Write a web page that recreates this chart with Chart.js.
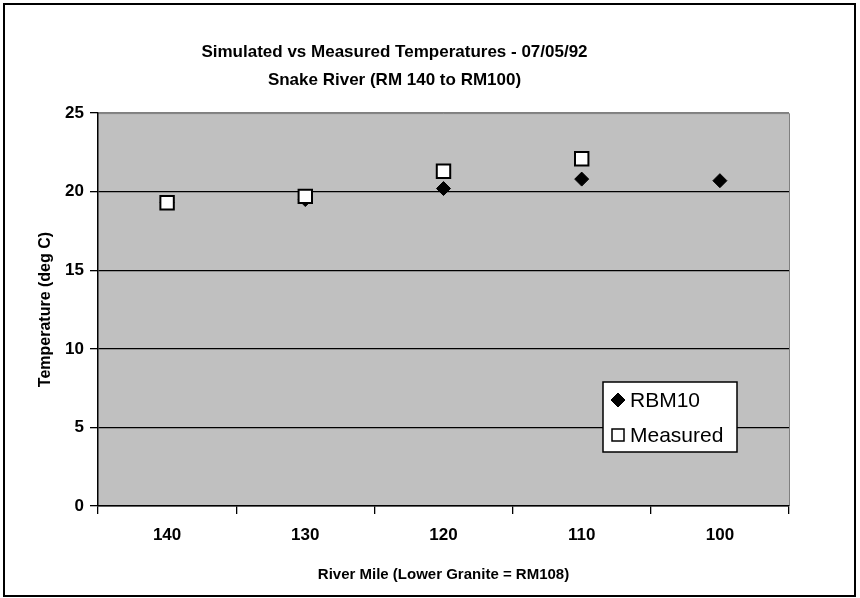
<!DOCTYPE html>
<html lang="en">
<head>
  <meta charset="UTF-8" />
  <title>Simulated vs Measured Temperatures</title>
  <script src="https://cdn.jsdelivr.net/npm/chart.js"></script>
  <style>
    body {
      margin: 0;
      background: #fff;
    }
    #wrap {
      width: 860px;
      height: 598px;
    }
  </style>
</head>
<body>
  <div id="wrap">
    <canvas id="tempChart" width="860" height="598"></canvas>
  </div>

  <script>
    // chart values
    const riverMiles = ["140", "130", "120", "110", "100"];
    const rbm10Temps = [19.3, 19.5, 20.2, 20.8, 20.7];
    const measuredTemps = [19.3, 19.7, 21.3, 22.1, null];
    const tempTicks = [0, 5, 10, 15, 20, 25];

    const font = "'Liberation Sans', Arial, sans-serif";

    // grey plot background, grey top/right edge, outer frame, legend box
    const excelLook = {
      id: "excelLook",
      beforeDraw(chart) {
        const { ctx, chartArea: a } = chart;
        ctx.save();
        ctx.fillStyle = "#fff";
        ctx.fillRect(0, 0, chart.width, chart.height);
        ctx.fillStyle = "#c0c0c0";
        ctx.fillRect(a.left, a.top, a.right - a.left, a.bottom - a.top);
        ctx.strokeStyle = "#808080";
        ctx.lineWidth = 1;
        ctx.beginPath();
        ctx.moveTo(a.left, a.top + 0.5);
        ctx.lineTo(a.right + 0.5, a.top + 0.5);
        ctx.lineTo(a.right + 0.5, a.bottom);
        ctx.stroke();
        ctx.restore();
      },
      afterDraw(chart) {
        const { ctx, chartArea: a } = chart;
        ctx.save();
        // outer frame
        ctx.strokeStyle = "#000";
        ctx.lineWidth = 2;
        ctx.strokeRect(4, 4, 851, 592);

        // legend
        const x0 = a.right - 186, y0 = a.bottom - 124;
        ctx.fillStyle = "#fff";
        ctx.fillRect(x0, y0, 134, 70);
        ctx.lineWidth = 1.5;
        ctx.strokeRect(x0, y0, 134, 70);

        const ds = chart.data.datasets;
        const rows = [ds[1], ds[0]];
        rows.forEach((d, i) => {
          const cy = y0 + 18 + i * 35;
          const cx = x0 + 15;
          ctx.fillStyle = d.pointBackgroundColor;
          ctx.strokeStyle = d.pointBorderColor;
          ctx.lineWidth = d.pointBorderWidth;
          if (d.pointStyle === "rectRot") {
            ctx.beginPath();
            ctx.moveTo(cx, cy - 7);
            ctx.lineTo(cx + 7, cy);
            ctx.lineTo(cx, cy + 7);
            ctx.lineTo(cx - 7, cy);
            ctx.closePath();
            ctx.fill();
            ctx.stroke();
          } else {
            ctx.fillRect(cx - 6, cy - 6, 12, 12);
            ctx.lineWidth = 1.5;
            ctx.strokeRect(cx - 6, cy - 6, 12, 12);
          }
          ctx.fillStyle = "#000";
          ctx.font = "21px " + font;
          ctx.textBaseline = "middle";
          ctx.textAlign = "left";
          ctx.fillText(d.label, x0 + 27, cy + 1);
        });
        ctx.restore();
      }
    };

    const chart = new Chart(document.getElementById("tempChart").getContext("2d"), {
      type: "line",
      data: {
        labels: riverMiles,
        datasets: [
          {
            label: "Measured",
            data: measuredTemps,
            showLine: false,
            pointStyle: "rect",
            pointRadius: 9.5,
            pointHoverRadius: 9.5,
            pointBackgroundColor: "#fff",
            pointBorderColor: "#000",
            pointBorderWidth: 2,
            order: 0
          },
          {
            label: "RBM10",
            data: rbm10Temps,
            showLine: false,
            pointStyle: "rectRot",
            pointRadius: 7,
            pointHoverRadius: 7,
            pointBackgroundColor: "#000",
            pointBorderColor: "#000",
            pointBorderWidth: 1,
            order: 1
          }
        ]
      },
      options: {
        responsive: false,
        animation: false,
        layout: { padding: { left: 0, right: 71, bottom: 0, top: 0 } },
        plugins: {
          legend: { display: false },
          tooltip: { enabled: false },
          title: {
            display: true,
            text: ["Simulated vs Measured Temperatures - 07/05/92", "Snake River (RM 140 to RM100)"],
            color: "#000",
            font: { family: font, size: 17, weight: "bold", lineHeight: 1.65 },
            padding: { top: 38, bottom: 19 }
          }
        },
        scales: {
          x: {
            type: "category",
            offset: true,
            grid: {
              offset: true,
              drawOnChartArea: false,
              drawTicks: true,
              tickLength: 8,
              color: "#000",
              lineWidth: 1.3
            },
            border: { color: "#000", width: 1.5 },
            ticks: {
              color: "#000",
              padding: 11,
              font: { family: font, size: 17, weight: "bold" }
            },
            title: {
              display: true,
              text: "River Mile (Lower Granite = RM108)",
              color: "#000",
              font: { family: font, size: 15, weight: "bold" },
              padding: { top: 14, bottom: 14 }
            },
            afterFit(scale) { scale.height = 92; }
          },
          y: {
            min: tempTicks[0],
            max: tempTicks[tempTicks.length - 1],
            afterBuildTicks(scale) {
              scale.ticks = tempTicks.map(v => ({ value: v }));
            },
            grid: {
              color: c => (c.tick && c.tick.value === 25 ? "#808080" : "#000"),
              lineWidth: 1.3,
              tickLength: 8,
              tickColor: "#000"
            },
            border: { color: "#000", width: 1.5 },
            ticks: {
              color: "#000",
              padding: 6,
              font: { family: font, size: 17, weight: "bold" }
            },
            title: {
              display: true,
              text: "Temperature (deg C)",
              color: "#000",
              font: { family: font, size: 16, weight: "bold" },
              padding: { top: 36, bottom: 0 }
            },
            afterFit(scale) { scale.width = 98; }
          }
        }
      },
      plugins: [excelLook]
    });
  </script>
</body>
</html>
